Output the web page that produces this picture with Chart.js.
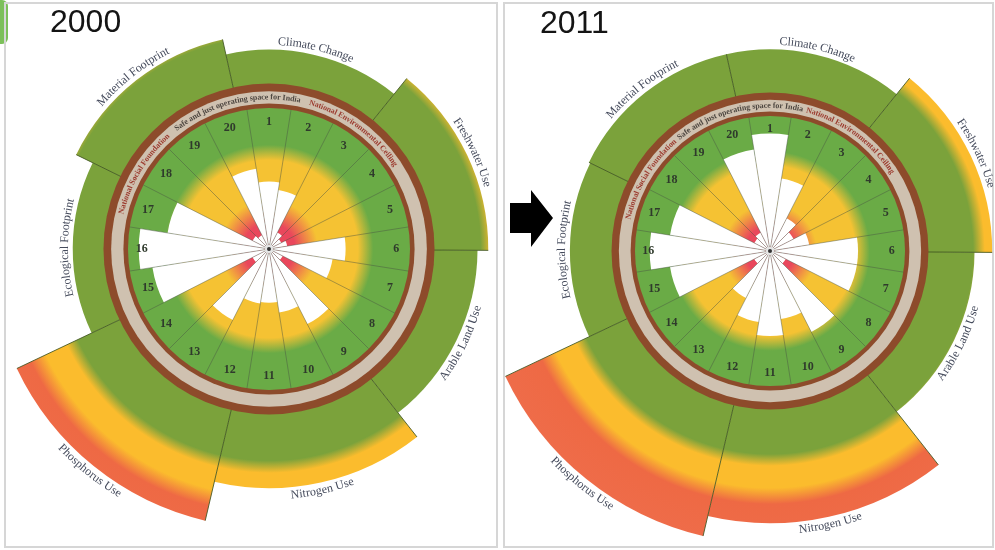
<!DOCTYPE html>
<html>
<head>
<meta charset="utf-8">
<script src="https://cdn.jsdelivr.net/npm/chart.js@4.4.0/dist/chart.umd.min.js"></script>
<style>
  html, body { margin: 0; padding: 0; background: #fff; width: 995px; height: 550px; overflow: hidden; }
  body { position: relative; }
  .frame { position: absolute; border: 2px solid #d6d6d6; box-sizing: border-box; }
  .year { position: absolute; font: 32px "Liberation Sans", Arial, sans-serif; color: #141414; line-height: 1; }
  canvas { position: absolute; }
  .tab { position: absolute; left: 0; top: 0; width: 8px; height: 44px; background: #7cc05a; border-radius: 0 6px 6px 0; }
  #arrow { position: absolute; left: 0; top: 0; }
</style>
</head>
<body>
<div class="tab"></div>
<div class="frame" style="left:4px;top:2px;width:494px;height:546px"></div>
<div class="frame" style="left:503px;top:2px;width:491px;height:546px"></div>

<canvas id="outer2000"></canvas>
<canvas id="inner2000"></canvas>
<canvas id="outer2011"></canvas>
<canvas id="inner2011"></canvas>

<div class="year" style="left:50px;top:5px">2000</div>
<div class="year" style="left:540px;top:6px">2011</div>

<svg id="arrow" width="995" height="550">
  <polygon points="510,203 531,203 531,190 553,218 531,247 531,233 510,233" fill="#000"/>
</svg>

<script>
// ── Data ────────────────────────────────────────────────────────────────
// Outer ring: environmental pressures, as multiples of the national ceiling
const boundaryLabels = ['Climate Change', 'Freshwater Use', 'Arable Land Use', 'Nitrogen Use',
                        'Phosphorus Use', 'Ecological Footprint', 'Material Footprint'];
const boundary2000 = [1.30, 1.43, 1.36, 1.56, 1.82, 1.28, 1.40];
const boundary2011 = [1.37, 1.51, 1.39, 1.85, 1.99, 1.36, 1.37];

// Inner wedges: social indicators 1–20, as share of the social foundation
const socialLabels = ['1', '2', '3', '4', '5', '6', '7', '8', '9', '10',
                      '11', '12', '13', '14', '15', '16', '17', '18', '19', '20'];
const social2000 = [0.44, 0.39, 0.12, 0.09, 0.12, 0.50, 0.42, 0.10, 0.55, 0.42,
                    0.35, 0.36, 0.52, 0.12, 0.77, 0.85, 0.67, 0.12, 0.10, 0.53];
const social2011 = [0.80, 0.50, 0.25, 0.18, 0.27, 0.60, 0.60, 0.12, 0.62, 0.47,
                    0.58, 0.49, 0.36, 0.12, 0.69, 0.82, 0.69, 0.12, 0.14, 0.70];

// ── Styling ─────────────────────────────────────────────────────────────
const OUTER_MAX = 2.1;
const INNER_MAX = 0.92;

const OUTER_BANDS = [[0, '#7ba23b'], [1.38, '#7ba23b'], [1.46, '#fbbc2d'],
                     [1.61, '#fbbc2d'], [1.72, '#ee6944'], [OUTER_MAX, '#ef6d4b']];
const INNER_BANDS = [[0, '#e9475c'], [0.17, '#e9475c'], [0.32, '#f5c233'],
                     [0.58, '#f5c233'], [0.68, '#6aab46'], [INNER_MAX, '#6aab46']];

const BROWN = '#8d4b2b';
const BEIGE = '#cfc1b0';

const RING_TEXT = [
    { text: 'National Social Foundation', at: -59, color: '#9c3b2f' },
    { text: 'Safe and just operating space for India', at: -13, color: '#4d4640' },
    { text: 'National Environmental Ceiling', at: 36, color: '#9c3b2f' }
];

const panels = [
    { key: '2000', boundary: boundary2000, social: social2000, cx: 269, cy: 249, unit: 153.5 },
    { key: '2011', boundary: boundary2011, social: social2011, cx: 770, cy: 251, unit: 147 }
];

// ── Helpers ─────────────────────────────────────────────────────────────
// Write text along a circle; upper half reads clockwise, lower half is flipped
function arcText(ctx, text, x, y, radius, angle) {
    const outward = Math.sin(angle) < 0.05;
    const total = ctx.measureText(text).width / radius;
    let a = outward ? angle - total / 2 : angle + total / 2;
    ctx.textAlign = 'center';
    ctx.textBaseline = 'middle';
    for (const ch of text) {
        const w = ctx.measureText(ch).width / radius;
        a += outward ? w / 2 : -w / 2;
        ctx.save();
        ctx.translate(x + radius * Math.cos(a), y + radius * Math.sin(a));
        ctx.rotate(outward ? a + Math.PI / 2 : a - Math.PI / 2);
        ctx.fillText(ch, 0, 0);
        ctx.restore();
        a += outward ? w / 2 : -w / 2;
    }
}

function radialFill(chart, bands) {
    const s = chart.scales.r;
    const g = chart.ctx.createRadialGradient(s.xCenter, s.yCenter, 0, s.xCenter, s.yCenter, s.drawingArea);
    bands.forEach(([v, c]) => g.addColorStop(Math.min(v / s.max, 1), c));
    return g;
}

function outerFill(context) {
    const chart = context.chart;
    if (!chart.chartArea || !chart.scales.r) return OUTER_BANDS[0][1];
    return radialFill(chart, OUTER_BANDS);
}

// Sector separators and curved names for the outer ring
const boundaryDecor = {
    id: 'boundaryDecor',
    afterDatasetsDraw(chart) {
        const ctx = chart.ctx;
        const arcs = chart.getDatasetMeta(0).data;
        ctx.save();
        ctx.strokeStyle = 'rgba(62,84,30,0.85)';
        ctx.lineWidth = 1;
        arcs.forEach((arc, i) => {
            const prev = arcs[(i + arcs.length - 1) % arcs.length];
            const len = Math.max(arc.outerRadius, prev.outerRadius);
            ctx.beginPath();
            ctx.moveTo(arc.x, arc.y);
            ctx.lineTo(arc.x + len * Math.cos(arc.startAngle), arc.y + len * Math.sin(arc.startAngle));
            ctx.stroke();
        });
        ctx.font = '12px "Liberation Serif", serif';
        ctx.fillStyle = '#454b5c';
        arcs.forEach((arc, i) => {
            const mid = (arc.startAngle + arc.endAngle) / 2;
            arcText(ctx, chart.data.labels[i], arc.x, arc.y, arc.outerRadius + 8, mid);
        });
        ctx.restore();
    }
};

// Ceiling / foundation rings, shortfall shading, numbers and ring captions
const foundationDecor = {
    id: 'foundationDecor',
    beforeDatasetsDraw(chart) {
        const s = chart.scales.r;
        const ctx = chart.ctx;
        const d = v => s.getDistanceFromCenterForValue(v);
        const disc = (rad, fill) => {
            ctx.beginPath();
            ctx.arc(s.xCenter, s.yCenter, rad, 0, Math.PI * 2);
            ctx.fillStyle = fill;
            ctx.fill();
        };
        ctx.save();
        disc(d(1.08), BROWN);
        disc(d(1.03), BEIGE);
        disc(d(0.95), BROWN);
        disc(d(INNER_MAX), radialFill(chart, INNER_BANDS));
        ctx.restore();
    },
    afterDraw(chart) {
        const s = chart.scales.r;
        const ctx = chart.ctx;
        const cx = s.xCenter, cy = s.yCenter;
        const arcs = chart.getDatasetMeta(0).data;
        ctx.save();

        // indicator numbers
        ctx.font = 'bold 12px "Liberation Serif", serif';
        ctx.fillStyle = '#2f3a2c';
        ctx.textAlign = 'center';
        ctx.textBaseline = 'middle';
        const rn = s.getDistanceFromCenterForValue(0.83);
        arcs.forEach((arc, i) => {
            const m = (arc.startAngle + arc.endAngle) / 2;
            ctx.fillText(chart.data.labels[i], cx + rn * Math.cos(m), cy + rn * Math.sin(m));
        });

        // captions inside the beige ring
        ctx.font = 'bold 8px "Liberation Serif", serif';
        const rr = s.getDistanceFromCenterForValue(0.99);
        RING_TEXT.forEach(t => {
            ctx.fillStyle = t.color;
            arcText(ctx, t.text, cx, cy, rr, (t.at - 90) * Math.PI / 180);
        });

        // hub
        ctx.beginPath();
        ctx.arc(cx, cy, 4, 0, Math.PI * 2);
        ctx.fillStyle = '#e6e6e6';
        ctx.fill();
        ctx.beginPath();
        ctx.arc(cx, cy, 2, 0, Math.PI * 2);
        ctx.fillStyle = '#333';
        ctx.fill();
        ctx.restore();
    }
};

const baseOptions = {
    responsive: false,
    animation: false,
    devicePixelRatio: 1,
    plugins: { legend: { display: false }, tooltip: { enabled: false } }
};

// ── Build both years ────────────────────────────────────────────────────
panels.forEach(function (p) {
    const R = Math.round(OUTER_MAX * p.unit);
    const r = Math.round(INNER_MAX * p.unit);
    const outer = document.getElementById('outer' + p.key);
    const inner = document.getElementById('inner' + p.key);
    [outer, inner].forEach(function (c) {
        c.width = 2 * R;
        c.height = 2 * R;
        c.style.left = (p.cx - R) + 'px';
        c.style.top = (p.cy - R) + 'px';
    });

    new Chart(outer, {
        type: 'polarArea',
        data: {
            labels: boundaryLabels,
            datasets: [{ data: p.boundary, backgroundColor: outerFill, borderWidth: 0 }]
        },
        options: Object.assign({}, baseOptions, {
            layout: { padding: 0 },
            scales: {
                r: {
                    min: 0, max: OUTER_MAX, startAngle: -12.5,
                    ticks: { display: false },
                    grid: { display: false },
                    angleLines: { display: false },
                    pointLabels: { display: false }
                }
            }
        }),
        plugins: [boundaryDecor]
    });

    new Chart(inner, {
        type: 'polarArea',
        data: {
            labels: socialLabels,
            datasets: [{ data: p.social, backgroundColor: '#ffffff', borderWidth: 0 }]
        },
        options: Object.assign({}, baseOptions, {
            layout: { padding: R - r },
            scales: {
                r: {
                    min: 0, max: INNER_MAX, startAngle: -9,
                    ticks: { display: false },
                    grid: { display: false, z: 1 },
                    angleLines: { display: true, color: 'rgba(70,82,66,0.45)', lineWidth: 1 },
                    pointLabels: { display: false }
                }
            }
        }),
        plugins: [foundationDecor]
    });
});
</script>
</body>
</html>
